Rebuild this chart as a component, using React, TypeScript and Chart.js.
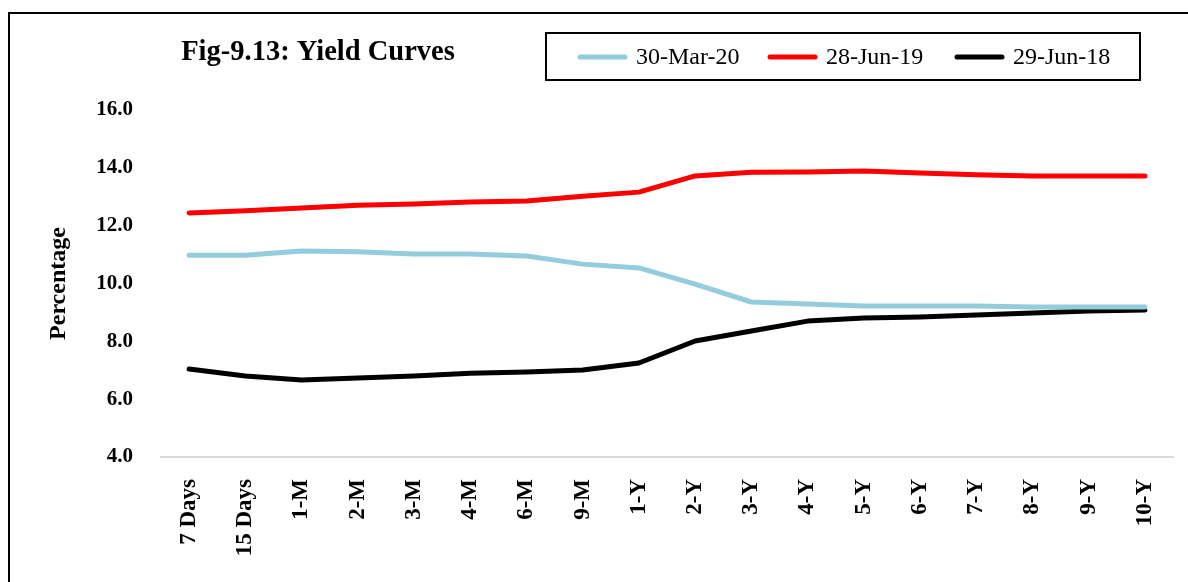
import React, { useEffect, useRef } from "react";
import { Chart, registerables } from "chart.js";

Chart.register(...registerables);

const categories = [
  "7 Days", "15 Days", "1-M", "2-M", "3-M", "4-M", "6-M", "9-M",
  "1-Y", "2-Y", "3-Y", "4-Y", "5-Y", "6-Y", "7-Y", "8-Y", "9-Y", "10-Y",
];

const seriesNames = ["30-Mar-20", "28-Jun-19", "29-Jun-18"];

const mar20 = [10.98, 10.98, 11.12, 11.1, 11.02, 11.02, 10.95, 10.67, 10.54, 9.98, 9.36, 9.29, 9.22, 9.22, 9.22, 9.19, 9.19, 9.19];
const jun19 = [12.44, 12.52, 12.61, 12.71, 12.75, 12.82, 12.85, 13.02, 13.16, 13.72, 13.85, 13.86, 13.89, 13.82, 13.76, 13.72, 13.72, 13.72];
const jun18 = [7.04, 6.8, 6.66, 6.73, 6.8, 6.9, 6.94, 7.01, 7.25, 8.01, 8.36, 8.7, 8.81, 8.84, 8.91, 8.98, 9.05, 9.08];

const seriesColors = ["#93CDDD", "#FF0000", "#000000"];

const yMin = 4;
const yMax = 16;
const yStep = 2;

const chartTitle = "Fig-9.13: Yield Curves";
const yTitle = "Percentage";

const SERIF = '"Liberation Serif", "Times New Roman", serif';

const decorPlugin = {
  id: "decor",
  afterDraw(chart: any) {
    const ctx = chart.ctx as CanvasRenderingContext2D;
    ctx.save();
    // Title
    ctx.fillStyle = "#000";
    ctx.font = `bold 28.5px ${SERIF}`;
    ctx.textAlign = "center";
    ctx.textBaseline = "alphabetic";
    ctx.fillText(chartTitle, 318, 60);

    // Legend box
    ctx.lineWidth = 2;
    ctx.strokeStyle = "#000";
    ctx.strokeRect(546, 33, 594, 47);

    const lineStarts = [580, 770, 957];
    const ly = 57;
    ctx.font = `24px ${SERIF}`;
    ctx.textAlign = "left";
    ctx.textBaseline = "middle";
    chart.data.datasets.forEach((ds: any, i: number) => {
      const x0 = lineStarts[i];
      ctx.beginPath();
      ctx.lineWidth = 5;
      ctx.lineCap = "round";
      ctx.strokeStyle = ds.borderColor;
      ctx.moveTo(x0, ly);
      ctx.lineTo(x0 + 45, ly);
      ctx.stroke();
      ctx.fillStyle = "#000";
      ctx.fillText(ds.label, x0 + 56, ly + 1);
    });
    ctx.restore();
  },
};

export default function App() {
  const ref = useRef<HTMLCanvasElement>(null);

  useEffect(() => {
    document.documentElement.style.overflow = "hidden";
    document.body.style.overflow = "hidden";
    const yTickFont = { family: SERIF, size: 21, weight: "bold" as const };
    const xTickFont = { family: SERIF, size: 23, weight: "bold" as const };
    const chart = new Chart(ref.current!, {
      type: "line",
      data: {
        labels: categories,
        datasets: [mar20, jun19, jun18].map((d, i) => ({
          label: seriesNames[i],
          data: d,
          borderColor: seriesColors[i],
          backgroundColor: seriesColors[i],
          borderWidth: 5,
          pointRadius: 0,
          tension: 0,
          borderCapStyle: "round" as const,
          borderJoinStyle: "round" as const,
        })),
      },
      options: {
        animation: false,
        responsive: false,
        maintainAspectRatio: false,
        layout: { padding: { top: 110, right: 15, bottom: 0, left: 0 } },
        plugins: {
          legend: { display: false },
          title: { display: false },
          tooltip: { enabled: false },
        },
        scales: {
          x: {
            type: "category",
            offset: true,
            grid: { display: false, drawTicks: false },
            border: { display: true, color: "#D9D9D9", width: 2 },
            ticks: {
              autoSkip: false,
              minRotation: 90,
              maxRotation: 90,
              padding: 22,
              color: "#000",
              font: xTickFont,
            },
            afterFit: (s: any) => {
              s.height = 125;
              s.paddingLeft = 0;
              s.paddingRight = 0;
            },
          },
          y: {
            min: yMin,
            max: yMax,
            grid: { display: false, drawTicks: false },
            border: { display: false },
            ticks: {
              stepSize: yStep,
              padding: 28,
              color: "#000",
              font: yTickFont,
              callback: (v: any) => Number(v).toFixed(1),
            },
            title: {
              display: true,
              text: yTitle,
              color: "#000",
              font: { family: SERIF, size: 24, weight: "bold" as const },
              padding: { top: 44, bottom: 0 },
            },
            afterFit: (s: any) => {
              s.width = 161;
            },
          },
        },
      },
      plugins: [decorPlugin],
    });
    return () => chart.destroy();
  }, []);

  return (
    <>
      <canvas
        ref={ref}
        width={1188}
        height={582}
        style={{ position: "fixed", left: 0, top: 0, width: 1188, height: 582 }}
      />
      <div
        style={{
          position: "fixed",
          left: 8,
          top: 12,
          width: 1300,
          height: 700,
          border: "2px solid #000",
          pointerEvents: "none",
        }}
      />
    </>
  );
}
